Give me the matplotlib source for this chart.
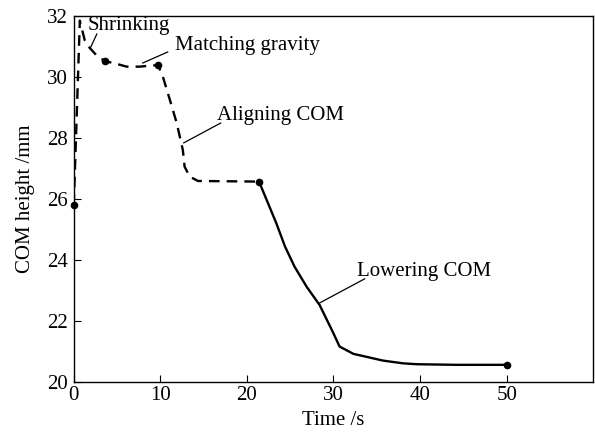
import matplotlib
matplotlib.use("Agg")
import matplotlib.pyplot as plt

plt.rcParams['font.family'] = ['Liberation Serif', 'DejaVu Serif']
plt.rcParams['mathtext.fontset'] = 'stix'

# Dashed phase (shrinking, matching gravity, aligning COM)
t_dash = [0.0, 0.7, 1.27, 1.85, 2.6, 3.58, 4.7, 6.1, 7.6, 8.8, 9.74,
          10.3, 11.1, 11.9, 12.6, 12.8, 13.4, 14.35, 21.4]
h_dash = [25.8, 31.85, 31.2, 30.95, 30.72, 30.52, 30.45, 30.34, 30.34, 30.37, 30.39,
          30.0, 29.25, 28.48, 27.6, 27.06, 26.73, 26.59, 26.57]

# Solid phase (lowering COM)
t_solid = [21.4, 23.4, 24.4, 25.5, 26.9, 28.4, 29.9, 30.7, 32.3, 35.7, 38.0, 39.6, 44.2, 50.0]
h_solid = [26.57, 25.2, 24.44, 23.78, 23.12, 22.52, 21.65, 21.16, 20.92, 20.70, 20.61, 20.58, 20.56, 20.56]

# Key points (markers)
t_marks = [0.0, 3.58, 9.74, 21.4, 50.0]
h_marks = [25.8, 30.52, 30.39, 26.57, 20.56]

x_ticks = [0, 10, 20, 30, 40, 50]
y_ticks = [20, 22, 24, 26, 28, 30, 32]

labels = ["Shrinking", "Matching gravity", "Aligning COM", "Lowering COM"]
label_pos = [(1.62, 31.54), (11.66, 30.89), (16.51, 28.59), (32.68, 23.48)]
leader_start = [(2.66, 31.41), (10.85, 30.82), (16.97, 28.49), (33.6, 23.38)]
leader_end = [(1.96, 30.98), (7.97, 30.46), (12.7, 27.84), (28.4, 22.59)]

fig = plt.figure(figsize=(5.95, 4.33), dpi=100)
ax = fig.add_axes([0.124, 0.118, 0.873, 0.845])

ax.plot(t_dash, h_dash, color='black', lw=1.7, linestyle=(0, (4.5, 3)))
ax.plot(t_solid, h_solid, color='black', lw=1.7, linestyle='-')
ax.plot(t_marks, h_marks, 'o', color='black', markersize=4.5, clip_on=False, zorder=5)

for lab, (tx, ty), (sx, sy), (ex, ey) in zip(labels, label_pos, leader_start, leader_end):
    ax.text(tx, ty, lab, fontsize=15, ha='left', va='baseline')
    ax.plot([sx, ex], [sy, ey], color='black', lw=0.9)

ax.set_xlim(0, 60)
ax.set_ylim(20, 32)
ax.set_xticks(x_ticks)
ax.set_yticks(y_ticks)
ax.tick_params(direction='in', length=5, width=0.8, labelsize=15,
               top=False, right=False, pad=3)
ax.tick_params(axis='y', pad=4)
ax.set_xlabel("Time /s", fontsize=15, labelpad=4)
ax.set_ylabel("COM height /mm", fontsize=15, labelpad=9)
for s in ax.spines.values():
    s.set_linewidth(1.0)

fig.savefig("out.png", dpi=100)
